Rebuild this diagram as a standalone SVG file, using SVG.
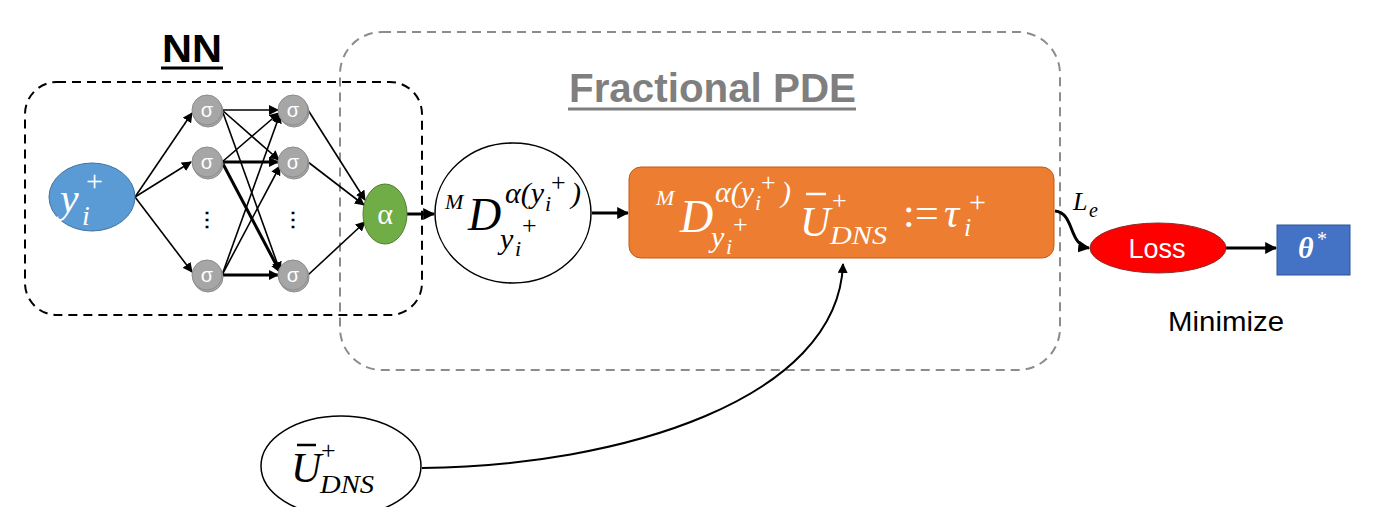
<svg xmlns="http://www.w3.org/2000/svg" width="1400" height="507" viewBox="0 0 1400 507">
<defs>
<marker id="ah" viewBox="0 0 10 10" refX="9" refY="5" markerWidth="10" markerHeight="10" markerUnits="userSpaceOnUse" orient="auto"><path d="M0,0 L10,5 L0,10 z" fill="#000"/></marker>
<marker id="ahb" viewBox="0 0 10 10" refX="9" refY="5" markerWidth="12" markerHeight="12" markerUnits="userSpaceOnUse" orient="auto"><path d="M0,0 L10,5 L0,10 z" fill="#000"/></marker>
</defs>
<style>
.math{font-family:"Liberation Serif","DejaVu Serif",serif;font-style:italic}
.up{font-family:"Liberation Serif","DejaVu Serif",serif}
.sig{fill:#a6a6a6;stroke:#8c8c8c;stroke-width:1}
.sigt{font-family:"Liberation Sans",Arial,sans-serif;fill:#fff;font-size:20px;text-anchor:middle}
.e{stroke:#000;stroke-width:1.6;fill:none;marker-end:url(#ah)}
.eb{stroke:#000;stroke-width:3;fill:none;marker-end:url(#ah)}
.big{stroke:#000;stroke-width:3;fill:none;marker-end:url(#ahb)}
.sans{font-family:"Liberation Sans",Arial,sans-serif}
</style>
<rect width="1400" height="507" fill="#fff"/>
<g id="nn-box">
<rect x="25" y="82" width="397" height="233" rx="32" fill="none" stroke="#000" stroke-width="2" stroke-dasharray="9,6"/>
<text x="162" y="62" class="sans" font-weight="bold" font-size="38" textLength="60" lengthAdjust="spacingAndGlyphs">NN</text>
<line x1="161" y1="68" x2="223" y2="68" stroke="#000" stroke-width="3"/>
</g>
<g id="pde-box">
<rect x="340" y="32" width="720" height="338" rx="42" fill="none" stroke="#8c8c8c" stroke-width="2" stroke-dasharray="9,6"/>
<text x="569" y="102" class="sans" font-weight="bold" font-size="40" fill="#7f7f7f" textLength="287" lengthAdjust="spacingAndGlyphs">Fractional PDE</text>
<line x1="568" y1="109" x2="856" y2="109" stroke="#7f7f7f" stroke-width="3"/>
</g>
<g id="connectors">
<line class="e" x1="135" y1="197" x2="192" y2="113"/>
<line class="e" x1="135" y1="197" x2="191" y2="162"/>
<line class="e" x1="135" y1="197" x2="192" y2="272"/>
<line class="e" x1="222" y1="110" x2="278" y2="110"/>
<line class="e" x1="222" y1="110" x2="279" y2="160"/>
<line class="e" x1="222" y1="110" x2="280" y2="271"/>
<line class="e" x1="222" y1="162" x2="279" y2="113"/>
<line class="eb" x1="222" y1="162" x2="278" y2="162"/>
<line class="eb" x1="222" y1="162" x2="280" y2="272"/>
<line class="e" x1="222" y1="275" x2="280" y2="114"/>
<line class="e" x1="222" y1="275" x2="280" y2="166"/>
<line class="eb" x1="222" y1="275" x2="278" y2="275"/>
<line class="e" x1="308" y1="110" x2="365" y2="200"/>
<line class="e" x1="308" y1="162" x2="364" y2="205"/>
<line class="e" x1="308" y1="275" x2="365" y2="222"/>
<line class="big" x1="407" y1="214" x2="434" y2="214"/>
<line class="big" x1="592" y1="213" x2="628" y2="213"/>
<path class="big" d="M1055,211 C1075,213 1068,245 1089,248"/>
<line class="big" x1="1226" y1="248" x2="1276" y2="248"/>
<path d="M422,468 C620,466 838,400 843,264" fill="none" stroke="#000" stroke-width="2" marker-end="url(#ah)"/>
<text class="math" font-size="26" x="1073" y="210">L</text>
<text class="math" font-size="20" x="1089" y="217">e</text>
</g>
<g id="input">
<ellipse cx="92" cy="197" rx="43" ry="34" fill="#5b9bd5" stroke="#41719c" stroke-width="1"/>
<g fill="#fff">
<text class="math" font-size="42" x="60" y="212">y</text>
<text class="math" font-size="28" x="82" y="225">i</text>
<text class="up" font-size="30" x="86" y="191">+</text>
</g>
</g>
<g id="hidden">
<circle class="sig" cx="208" cy="112" r="15"/><circle class="sig" cx="207" cy="110" r="15"/><text class="sigt" x="207" y="117">σ</text>
<circle class="sig" cx="208" cy="164" r="15"/><circle class="sig" cx="207" cy="162" r="15"/><text class="sigt" x="207" y="169">σ</text>
<circle class="sig" cx="208" cy="277" r="15"/><circle class="sig" cx="207" cy="275" r="15"/><text class="sigt" x="207" y="282">σ</text>
<circle class="sig" cx="294" cy="112" r="15"/><circle class="sig" cx="293" cy="110" r="15"/><text class="sigt" x="293" y="117">σ</text>
<circle class="sig" cx="294" cy="164" r="15"/><circle class="sig" cx="293" cy="162" r="15"/><text class="sigt" x="293" y="169">σ</text>
<circle class="sig" cx="294" cy="277" r="15"/><circle class="sig" cx="293" cy="275" r="15"/><text class="sigt" x="293" y="282">σ</text>
<text x="207" y="226" class="sans" font-weight="bold" font-size="20" text-anchor="middle">⋮</text>
<text x="293" y="226" class="sans" font-weight="bold" font-size="20" text-anchor="middle">⋮</text>
</g>
<g id="alpha">
<ellipse cx="385" cy="214" rx="22" ry="30" fill="#70ad47" stroke="#507e32" stroke-width="1"/>
<text x="385" y="224" class="up" font-size="30" fill="#fff" text-anchor="middle">α</text>
</g>
<g id="frac-op">
<ellipse cx="513" cy="213" rx="78" ry="70" fill="#fff" stroke="#000" stroke-width="1.5"/>
<text class="math" font-size="22" x="445" y="209">M</text>
<text class="math" font-size="46" x="468" y="230">D</text>
<text class="math" font-size="30" x="505" y="203">α(y</text>
<text class="math" font-size="22" x="545" y="211">i</text>
<text class="up" font-size="26" x="551" y="191">+</text>
<text class="math" font-size="30" x="571" y="203">)</text>
<text class="math" font-size="30" x="500" y="249">y</text>
<text class="math" font-size="22" x="515" y="256">i</text>
<text class="up" font-size="26" x="522" y="234">+</text>
</g>
<g id="equation">
<rect x="629" y="167" width="425" height="91" rx="12" fill="#ed7d31" stroke="#c55a11" stroke-width="1"/>
<g fill="#fff">
<text class="math" font-size="22" x="656" y="205">M</text>
<text class="math" font-size="46" x="680" y="232">D</text>
<text class="math" font-size="30" x="715" y="202">α(y</text>
<text class="math" font-size="22" x="755" y="210">i</text>
<text class="up" font-size="26" x="761" y="191">+</text>
<text class="math" font-size="30" x="781" y="202">)</text>
<text class="math" font-size="30" x="711" y="247">y</text>
<text class="math" font-size="22" x="726" y="254">i</text>
<text class="up" font-size="26" x="733" y="233">+</text>
<text class="math" font-size="42" x="800" y="236">U</text>
<line x1="806" y1="194" x2="826" y2="194" stroke="#fff" stroke-width="2.5"/>
<text class="up" font-size="26" x="832" y="209">+</text>
<text class="math" font-size="26" x="830" y="244" textLength="57" lengthAdjust="spacingAndGlyphs">DNS</text>
<text class="up" font-size="42" x="903" y="227">:</text>
<text class="up" font-size="42" x="915" y="227">=</text>
<text class="math" font-size="42" x="944" y="227">τ</text>
<text class="math" font-size="26" x="964" y="236">i</text>
<text class="up" font-size="30" x="969" y="212">+</text>
</g>
</g>
<g id="loss">
<ellipse cx="1158" cy="248" rx="68" ry="25" fill="#ff0000" stroke="#8b2b2b" stroke-width="1"/>
<text x="1157" y="258" class="sans" font-size="27" fill="#fff" text-anchor="middle">Loss</text>
<text x="1168" y="331" class="sans" font-size="27" textLength="116" lengthAdjust="spacingAndGlyphs">Minimize</text>
</g>
<g id="theta">
<rect x="1277" y="225" width="73" height="50" fill="#4472c4" stroke="#2f5597" stroke-width="1"/>
<text x="1298" y="258" class="up" font-style="italic" font-weight="bold" font-size="30" fill="#fff">θ</text>
<text x="1317" y="246" class="up" font-size="20" fill="#fff">*</text>
</g>
<g id="udns">
<ellipse cx="341" cy="466" rx="80" ry="50" fill="#fff" stroke="#000" stroke-width="1.5"/>
<text class="math" font-size="42" x="291" y="482">U</text>
<line x1="297" y1="445" x2="316" y2="445" stroke="#000" stroke-width="2.5"/>
<text class="up" font-size="26" x="321" y="459">+</text>
<text class="math" font-size="26" x="320" y="493" textLength="54" lengthAdjust="spacingAndGlyphs">DNS</text>
</g>
</svg>
